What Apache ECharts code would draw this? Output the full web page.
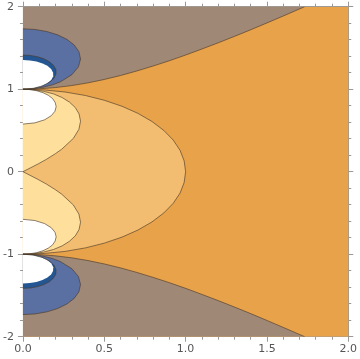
<!DOCTYPE html>
<html>
<head>
<meta charset="utf-8">
<script src="https://cdn.jsdelivr.net/npm/echarts@6/dist/echarts.min.js"></script>
<style>html,body{margin:0;padding:0;background:#fff}#c{width:360px;height:359px}</style>
</head>
<body>
<div id="c"></div>
<script>
// ---- data ----
const xTicks = [0, 0.5, 1, 1.5, 2];
const yTicks = [-2, -1, 0, 1, 2];
const plotCorners = [[0,-2],[2,-2],[2,2],[0,2]];
// contour level 0 (brown / orange boundary)
const hyperUpper = [[0,1],[0.1,1.005],[0.2,1.02],[0.3,1.044],[0.4,1.077],[0.5,1.118],[0.6,1.166],[0.7,1.221],[0.8,1.281],[0.9,1.345],[1.0,1.414],[1.1,1.487],[1.2,1.562],[1.3,1.64],[1.4,1.72],[1.5,1.803],[1.6,1.887],[1.732,2.0]];
const hyperLower = [[0,-1],[0.1,-1.005],[0.2,-1.02],[0.3,-1.044],[0.4,-1.077],[0.5,-1.118],[0.6,-1.166],[0.7,-1.221],[0.8,-1.281],[0.9,-1.345],[1.0,-1.414],[1.1,-1.487],[1.2,-1.562],[1.3,-1.64],[1.4,-1.72],[1.5,-1.803],[1.6,-1.887],[1.732,-2.0]];
// contour level 0.5 (orange / light orange boundary)
const circleHalf = [[0,1],[0.131,0.991],[0.259,0.966],[0.383,0.924],[0.5,0.866],[0.609,0.793],[0.707,0.707],[0.793,0.609],[0.866,0.5],[0.924,0.383],[0.966,0.259],[0.991,0.131],[1,0],[0.991,-0.131],[0.966,-0.259],[0.924,-0.383],[0.866,-0.5],[0.793,-0.609],[0.707,-0.707],[0.609,-0.793],[0.5,-0.866],[0.383,-0.924],[0.259,-0.966],[0.131,-0.991],[0,-1]];
// contour level 1 (light orange / pale yellow lobes)
const lobeUpper = [[0,0],[0.093,0.094],[0.145,0.151],[0.199,0.218],[0.238,0.272],[0.31,0.404],[0.344,0.514],[0.354,0.612],[0.345,0.7],[0.322,0.777],[0.286,0.843],[0.241,0.899],[0.188,0.943],[0.128,0.974],[0.065,0.994],[0,1]];
const lobeLower = [[0,0],[0.093,-0.094],[0.145,-0.151],[0.199,-0.218],[0.238,-0.272],[0.31,-0.404],[0.344,-0.514],[0.354,-0.612],[0.345,-0.7],[0.322,-0.777],[0.286,-0.843],[0.241,-0.899],[0.188,-0.943],[0.128,-0.974],[0.065,-0.994],[0,-1]];
// contour level 1.5 (white disks near the axis)
const highUpper = [[0,0.577],[0.073,0.592],[0.133,0.629],[0.174,0.679],[0.197,0.734],[0.204,0.789],[0.198,0.84],[0.182,0.887],[0.156,0.926],[0.123,0.958],[0.085,0.981],[0.043,0.995],[0,1]];
const highLower = [[0,-0.577],[0.073,-0.592],[0.133,-0.629],[0.174,-0.679],[0.197,-0.734],[0.204,-0.789],[0.198,-0.84],[0.182,-0.887],[0.156,-0.926],[0.123,-0.958],[0.085,-0.981],[0.043,-0.995],[0,-1]];
// contour level -0.5 (blue region)
const blueUpper = [[0,1],[0.065,1.006],[0.126,1.025],[0.182,1.053],[0.23,1.089],[0.301,1.176],[0.341,1.271],[0.354,1.366],[0.344,1.455],[0.315,1.536],[0.27,1.604],[0.213,1.659],[0.147,1.699],[0.075,1.724],[0,1.732]];
const blueLower = [[0,-1],[0.065,-1.006],[0.126,-1.025],[0.182,-1.053],[0.23,-1.089],[0.301,-1.176],[0.341,-1.271],[0.354,-1.366],[0.344,-1.455],[0.315,-1.536],[0.27,-1.604],[0.213,-1.659],[0.147,-1.699],[0.075,-1.724],[0,-1.732]];
// contour level -1 (dark blue band)
const darkUpper = [[0,1],[0.064,1.011],[0.12,1.04],[0.163,1.083],[0.191,1.134],[0.203,1.188],[0.202,1.241],[0.187,1.29],[0.163,1.333],[0.129,1.368],[0.09,1.393],[0.046,1.409],[0,1.414]];
const darkLower = [[0,-1],[0.064,-1.011],[0.12,-1.04],[0.163,-1.083],[0.191,-1.134],[0.203,-1.188],[0.202,-1.241],[0.187,-1.29],[0.163,-1.333],[0.129,-1.368],[0.09,-1.393],[0.046,-1.409],[0,-1.414]];
// clipped (white) low-value region
const clipUpper = [[0,1],[0.057,1.009],[0.108,1.033],[0.147,1.068],[0.174,1.111],[0.186,1.157],[0.185,1.203],[0.173,1.245],[0.15,1.283],[0.12,1.313],[0.083,1.336],[0.043,1.349],[0,1.354]];
const clipLower = [[0,-1],[0.057,-1.009],[0.108,-1.033],[0.147,-1.068],[0.174,-1.111],[0.186,-1.157],[0.185,-1.203],[0.173,-1.245],[0.15,-1.283],[0.12,-1.313],[0.083,-1.336],[0.043,-1.349],[0,-1.354]];

// ---- colours ----
const C_ORANGE = '#e8a24a', C_BROWN = '#a08877', C_LIGHT = '#f2bd71', C_PALE = '#fee09c',
      C_BLUE = '#5a6fa2', C_DARK = '#235692', C_WHITE = '#ffffff', C_LINE = 'rgba(75,58,40,0.8)';

let zc = 1;
function poly(pts, fill) {
  return { type: 'custom', coordinateSystem: 'cartesian2d', data: pts, clip: true, silent: true,
    z: zc++, animation: false,
    renderItem: (params, api) => params.dataIndex !== 0 ? null : {
      type: 'polygon', shape: { points: pts.map(p => api.coord(p)) }, style: { fill: fill, stroke: null } } };
}
function curve(pts) {
  return { type: 'custom', coordinateSystem: 'cartesian2d', data: pts, clip: true, silent: true,
    z: 50, animation: false,
    renderItem: (params, api) => params.dataIndex !== 0 ? null : {
      type: 'polyline', shape: { points: pts.map(p => api.coord(p)) }, style: { fill: null, stroke: C_LINE, lineWidth: 0.8 } } };
}

const series = [
  poly(plotCorners, C_ORANGE),
  poly(hyperUpper.concat([[0,2]]), C_BROWN),
  poly(hyperLower.concat([[0,-2]]), C_BROWN),
  poly(blueUpper, C_BLUE),
  poly(blueLower, C_BLUE),
  poly(darkUpper, C_DARK),
  poly(darkLower, C_DARK),
  poly(clipUpper, C_WHITE),
  poly(clipLower, C_WHITE),
  poly(circleHalf, C_LIGHT),
  poly(lobeUpper, C_PALE),
  poly(lobeLower, C_PALE),
  poly(highUpper, C_WHITE),
  poly(highLower, C_WHITE),
  curve(hyperUpper), curve(hyperLower), curve(circleHalf),
  curve(lobeUpper), curve(lobeLower), curve(highUpper), curve(highLower),
  curve(blueUpper), curve(blueLower), curve(darkUpper), curve(darkLower)
];

const axisCol = '#999999';
const labelStyle = { color: '#555', fontSize: 11, fontFamily: 'DejaVu Sans' };
function xAx(pos, showLabel) {
  return { type: 'value', min: xTicks[0], max: xTicks[xTicks.length-1], interval: 0.5, position: pos,
    axisLine: { show: true, onZero: false, lineStyle: { color: axisCol, width: 1 } },
    axisTick: { show: true, inside: false, length: 5, lineStyle: { color: axisCol } },
    minorTick: { show: true, splitNumber: 5, length: 3, lineStyle: { color: axisCol } },
    splitLine: { show: false }, minorSplitLine: { show: false }, axisPointer: { show: false },
    axisLabel: Object.assign({ show: showLabel, margin: 7, formatter: v => v.toFixed(1) }, labelStyle) };
}
function yAx(pos, showLabel) {
  return { type: 'value', min: yTicks[0], max: yTicks[yTicks.length-1], interval: 1, position: pos,
    axisLine: { show: true, onZero: false, lineStyle: { color: axisCol, width: 1 } },
    axisTick: { show: true, inside: false, length: 5, lineStyle: { color: axisCol } },
    minorTick: { show: true, splitNumber: 5, length: 3, lineStyle: { color: axisCol } },
    splitLine: { show: false }, minorSplitLine: { show: false }, axisPointer: { show: false },
    axisLabel: Object.assign({ show: showLabel, margin: 9, formatter: v => String(v) }, labelStyle) };
}

const chart = echarts.init(document.getElementById('c'), null, { renderer: 'canvas' });
chart.setOption({
  animation: false,
  backgroundColor: '#ffffff',
  tooltip: { show: false },
  grid: { left: 22.3, right: 9.3, top: 6.7, bottom: 22.3, containLabel: false },
  xAxis: [xAx('bottom', true), xAx('top', false)],
  yAxis: [yAx('left', true), yAx('right', false)],
  series: series
});
</script>
</body>
</html>
